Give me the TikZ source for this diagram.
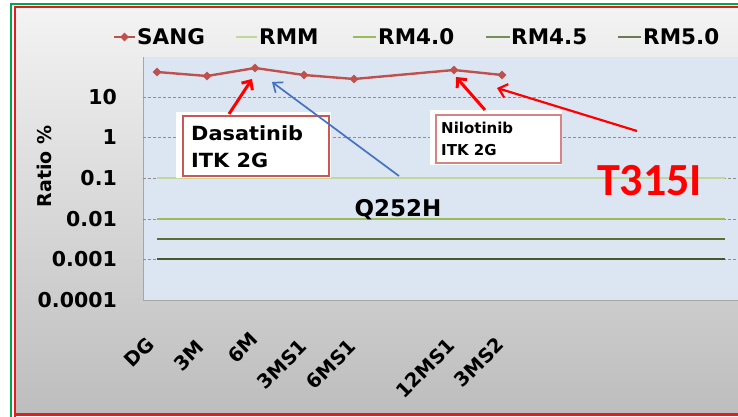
\documentclass[tikz,border=0pt]{standalone}
\usepackage{fontspec}
\setmainfont{DejaVu Sans}
\newfontfamily\calfont{Carlito}
\usetikzlibrary{arrows.meta,shapes.geometric}
\definecolor{sang}{HTML}{C0504D}
\definecolor{rmm}{HTML}{C4D79B}
\definecolor{rmfour}{HTML}{9BBB59}
\definecolor{rmfourfive}{HTML}{55702F}
\definecolor{rmfive}{HTML}{46582A}
\definecolor{plotbg}{HTML}{DCE6F2}
\definecolor{arrowblue}{HTML}{4472C4}
\definecolor{framegreen}{HTML}{00A650}
\definecolor{framered}{HTML}{E01E1E}
\definecolor{boxred}{HTML}{C95855}
\definecolor{boxred2}{HTML}{D58482}
\definecolor{bgtop}{HTML}{F3F3F3}
\definecolor{bgbot}{HTML}{BDBDBD}
\definecolor{gridgray}{HTML}{8E8E8E}
\begin{document}
\begin{tikzpicture}[x=1pt,y=-1pt,
  legtext/.style={font=\bfseries\fontsize{21.5}{24}\selectfont, inner sep=0pt, anchor=base west},
  ticktext/.style={font=\bfseries\fontsize{20.5}{24}\selectfont, inner sep=0pt, anchor=base east},
  cattext/.style={font=\bfseries\fontsize{19.5}{21}\selectfont, inner sep=0pt, rotate=45, anchor=south east},
  sangpt/.style={shape=diamond, fill=sang, draw=none, minimum width=9pt, minimum height=9pt, inner sep=0pt},
  gridline/.style={gridgray, line width=0.8pt, dash pattern=on 3pt off 2pt},
  redarrow/.style={red, line width=3pt, -{Straight Barb[length=7pt,width=13pt]}},
  thinredarrow/.style={red, line width=2.2pt, -{Straight Barb[length=8pt,width=14pt]}},
  bluearrow/.style={arrowblue, line width=1.7pt, -{Straight Barb[length=8pt,width=13pt]}},
]
\useasboundingbox (0,0) rectangle (738,417);
\clip (0,0) rectangle (738,417);
\fill[white] (0,0) rectangle (738,417);
% chart background
\shade[top color=bgtop, bottom color=bgbot] (16,8) rectangle (740,414);
% frame
\draw[framegreen, line width=1.6pt] (11,430) -- (11,4.3) -- (760,4.3);
\draw[framered, line width=2.2pt] (15,420) -- (15,7) -- (760,7);
\draw[framered, line width=2.2pt] (15,414.5) -- (760,414.5);
% plot area
\fill[plotbg] (143,57) rectangle (745,300);
\draw[gray!70, line width=1pt] (143,57) -- (143,300) -- (745,300);
% grid lines
\foreach \yy in {97,137,178,219,259} \draw[gridline] (143,\yy) -- (745,\yy);
% reference lines
\draw[rmm, line width=1.6pt] (157,178) -- (725,178);
\draw[rmfour, line width=2pt] (157,219) -- (725,219);
\draw[rmfourfive, line width=1.6pt] (157,239) -- (725,239);
\draw[rmfive, line width=1.6pt] (157,259) -- (725,259);
% tick labels
\node[ticktext] (t10) at (117,104.5) {10};
\node[ticktext] (t1) at (117,144.5) {1};
\node[ticktext] (t01) at (117,185.5) {0.1};
\node[ticktext] (t001) at (117,226.5) {0.01};
\node[ticktext] (t0001) at (117,266.5) {0.001};
\node[ticktext] (t00001) at (117,307.5) {0.0001};
\node[font=\bfseries\fontsize{19}{22}\selectfont, inner sep=0pt, rotate=90] (ytitle) at (44,166.5) {Ratio \%};
% category labels
\node[cattext] (cDG) at (156,346) {DG};
\node[cattext] (c3M) at (206,349) {3M};
\node[cattext] (c6M) at (260,341) {6M};
\node[cattext] (c3MS1) at (309,348) {3MS1};
\node[cattext] (c6MS1) at (358,348) {6MS1};
\node[cattext] (c12MS1) at (457,347) {12MS1};
\node[cattext] (c3MS2) at (506,346) {3MS2};
% legend
\draw[sang, line width=2.2pt] (114,37) -- (135,37);
\node[sangpt] (legsang) at (124.5,37) {};
\node[legtext] (lSANG) at (137,44.5) {SANG};
\draw[rmm, line width=2pt] (236,37) -- (257,37);
\node[legtext] (lRMM) at (259,44.5) {RMM};
\draw[rmfour, line width=2pt] (353,37) -- (376,37);
\node[legtext] (lRM40) at (378,44.5) {RM4.0};
\draw[rmfourfive!80, line width=2pt] (486,37) -- (510,37);
\node[legtext] (lRM45) at (511,44.5) {RM4.5};
\draw[rmfive!80, line width=2pt] (618,37) -- (641,37);
\node[legtext] (lRM50) at (643,44.5) {RM5.0};
% SANG series
\node[sangpt] (p1) at (157,72) {};
\node[sangpt] (p2) at (207,76) {};
\node[sangpt] (p3) at (255,68) {};
\node[sangpt] (p4) at (304,75) {};
\node[sangpt] (p5) at (354,79) {};
\node[sangpt] (p6) at (454,70) {};
\node[sangpt] (p7) at (502,75) {};
\draw[sang, line width=2.4pt, line join=round] (p1.center) -- (p2.center) -- (p3.center) -- (p4.center) -- (p5.center) -- (p6.center) -- (p7.center);
% callout boxes
\fill[white] (176,112) rectangle (331,177.5);
\node[draw=boxred, line width=2pt, fill=white, minimum width=146pt, minimum height=60pt, inner sep=0pt] (dasabox) at (256,146) {};
\node[font=\bfseries\fontsize{19.5}{22}\selectfont, inner sep=0pt, anchor=base west] (dasa1) at (191,140) {\scalebox{1.07}[1]{Dasatinib}};
\node[font=\bfseries\fontsize{19.5}{22}\selectfont, inner sep=0pt, anchor=base west] (dasa2) at (191,167) {\scalebox{1.07}[1]{ITK 2G}};
\fill[white] (430,110) rectangle (562,165);
\node[draw=boxred2, line width=2pt, fill=white, minimum width=125pt, minimum height=48pt, inner sep=0pt] (nilobox) at (498.5,139) {};
\node[font=\bfseries\fontsize{15}{17}\selectfont, inner sep=0pt, anchor=base west] (nilo1) at (441,133.5) {Nilotinib};
\node[font=\bfseries\fontsize{15}{17}\selectfont, inner sep=0pt, anchor=base west] (nilo2) at (441,155.5) {ITK 2G};
% labels
\node[font=\bfseries\fontsize{23}{26}\selectfont, inner sep=0pt, anchor=base] (q252h) at (398,216) {Q252H};
\node[font=\calfont\bfseries\fontsize{46}{50}\selectfont, text=red, inner sep=0pt, anchor=base] (t315i) at (649.5,195) {T315I};
% arrow targets
\coordinate (dasatip) at (252,79);
\coordinate (dasatail) at (229,114);
\coordinate (nilotip) at (456,77);
\coordinate (nilotail) at (485,110);
\coordinate (ttip) at (497,88);
\coordinate (ttail) at (637,131);
\coordinate (qtip) at (272,82);
\coordinate (qtail) at (399,176);
\draw[redarrow] (dasatail) -- (dasatip);
\draw[redarrow] (nilotail) -- (nilotip);
\draw[thinredarrow] (ttail) -- (ttip);
\draw[bluearrow] (qtail) -- (qtip);
\end{tikzpicture}
\end{document}
